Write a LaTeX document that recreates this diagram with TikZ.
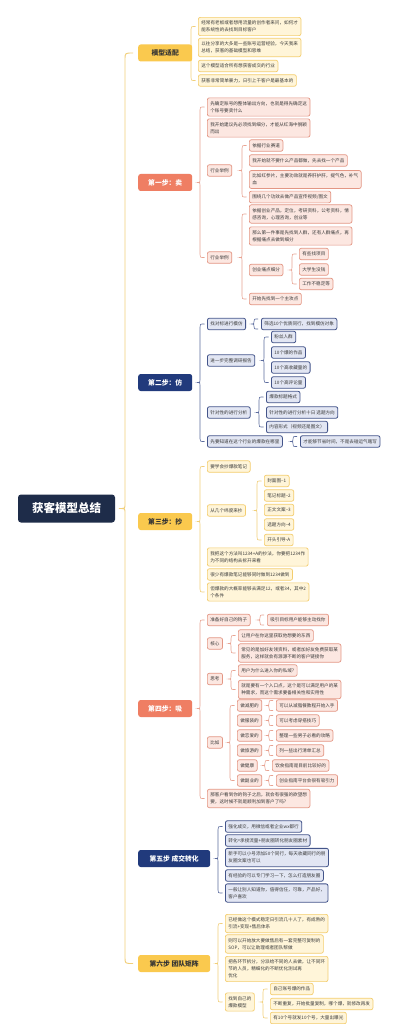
\documentclass[tikz,border=0pt]{standalone}
\usepackage{fontspec}
\setmainfont{Noto Sans CJK SC}
\usetikzlibrary{calc,backgrounds}
\definecolor{txt}{HTML}{3A3A3A}
\definecolor{ybd}{HTML}{F3CD6E}
\definecolor{yfl}{HTML}{FFF5D9}
\definecolor{yelstep}{HTML}{FAC94E}
\definecolor{ybr}{HTML}{F1CF7A}
\definecolor{sbd}{HTML}{E39684}
\definecolor{sfl}{HTML}{FCE7E1}
\definecolor{salstep}{HTML}{EF7E63}
\definecolor{sbr}{HTML}{E8A493}
\definecolor{bbd}{HTML}{44558A}
\definecolor{bfl}{HTML}{E2E6F3}
\definecolor{blustep}{HTML}{213A7C}
\definecolor{bbr}{HTML}{5C6C9E}
\definecolor{rootc}{HTML}{1E2C49}
\tikzset{
  box/.style={draw, rounded corners=2pt, line width=0.7pt, inner xsep=3pt, inner ysep=3.5pt,
    anchor=west, align=left, font=\fontsize{4.6pt}{7pt}\selectfont, text=txt, minimum height=11.5pt},
  yb/.style={box, draw=ybd, fill=yfl},
  sb/.style={box, draw=sbd, fill=sfl},
  bb/.style={box, draw=bbd, fill=bfl, line width=0.8pt},
  stepbox/.style={rounded corners=2.5pt, minimum width=54pt, minimum height=17pt, inner sep=2pt,
    font=\fontsize{6.8pt}{8pt}\selectfont\bfseries, anchor=west},
  ystepbox/.style={stepbox, fill=yelstep, text=black!80},
  sstepbox/.style={stepbox, fill=salstep, text=white},
  bstepbox/.style={stepbox, fill=blustep, text=white},
  brc/.style={line width=0.6pt},
}
\newcommand\mybrace[4][]{%
  \begin{scope}[on background layer]
  \draw[brc,#1] let \p1=(#2.east), \p2=(#3.west), \p3=(#4.west) in
   (\x2-2.5pt,\y2) .. controls (\x2-7pt,\y2) .. (\x2-7pt,\y2-3pt)
   -- (\x2-7pt,\y1+2.5pt) .. controls (\x2-7pt,\y1) .. (\x2-9.5pt,\y1)
   .. controls (\x2-7pt,\y1) .. (\x2-7pt,\y1-2.5pt)
   -- (\x2-7pt,\y3+3pt) .. controls (\x2-7pt,\y3) .. (\x2-2.5pt,\y3);
  \end{scope}}
\newcommand\mybraceone[3][]{%
  \begin{scope}[on background layer]
  \draw[brc,#1] let \p1=(#2.east), \p2=(#3.west) in
   (\x2-3pt,\y2+5pt) .. controls (\x2-7pt,\y2+5pt) .. (\x2-7pt,\y2+2.5pt)
   .. controls (\x2-7pt,\y1) .. (\x2-9.5pt,\y1)
   .. controls (\x2-7pt,\y1) .. (\x2-7pt,\y2-2.5pt)
   .. controls (\x2-7pt,\y2-5pt) .. (\x2-3pt,\y2-5pt);
  \end{scope}}
\begin{document}
\begin{tikzpicture}[x=1pt,y=-1pt]
\useasboundingbox (0,0) rectangle (401,1024);
\begin{scope}[on background layer]
\fill[white] (0,0) rectangle (401,1024);
\end{scope}

% root
\node[fill=rootc, text=white, rounded corners=3pt, minimum width=97pt, minimum height=28pt,
  font=\fontsize{11.5pt}{13pt}\selectfont\bfseries] (root) at (66.5,508.5) {获客模型总结};

% steps
\node[ystepbox] (m0) at (138,53) {模型适配};
\node[sstepbox] (m1) at (138,182.5) {第一步：卖};
\node[bstepbox] (m2) at (138,382.5) {第二步：仿};
\node[ystepbox] (m3) at (138,521.5) {第三步：抄};
\node[sstepbox] (m4) at (138,708.5) {第四步：吸};
\node[bstepbox, minimum width=72pt] (m5) at (138,858.5) {第五步 成交转化};
\node[ystepbox, minimum width=72pt] (m6) at (138,963.5) {第六步 团队矩阵};

% big brace from root to steps
\begin{scope}[on background layer]
\draw[line width=0.9pt, draw=ybr] let \p1=(root.east), \p2=(m0.west), \p3=(m6.west) in
   (\x2-5pt,\y2) .. controls (\x2-13pt,\y2) .. (\x2-13pt,\y2-6pt)
   -- (\x2-13pt,\y1+4pt) .. controls (\x2-13pt,\y1) .. (\x2-19pt,\y1)
   .. controls (\x2-13pt,\y1) .. (\x2-13pt,\y1-4pt)
   -- (\x2-13pt,\y3+6pt) .. controls (\x2-13pt,\y3) .. (\x2-5pt,\y3);
\end{scope}

% ---------- 模型适配
\node[yb] (y1) at (198,26.5) {经常有老板或者想用流量的创作者来问，如何才\\能系统性的去找到目标客户};
\node[yb] (y2) at (198,47.5) {以往分享的大多是一些账号运营经验，今天我来\\总结，获客的基础模型和思维};
\node[yb] (y3) at (198,66) {这个模型适合所有想获客成交的行业};
\node[yb] (y4) at (198,80.5) {获客非常简单暴力，日引上千客户是最基本的};
\mybrace[draw=ybr]{m0}{y1}{y4}

% ---------- 第一步
\node[sb] (s1) at (207,107) {先确定账号的整体输出方向，也就是得先确定这\\个账号要卖什么};
\node[sb] (s2) at (207,128) {我开始建议先必须找到细分，才能从红海中脱颖\\而出};
\node[sb] (s3) at (207,170.5) {行业举例};
\node[sb] (s3a) at (249,145.5) {依据行业赛道};
\node[sb] (s3b) at (249,160.5) {我开始就不要什么产品都做，先去找一个产品};
\node[sb] (s3c) at (249,179.5) {比如红参片，主要功效就是养肝护肝，提气色，补气\\血};
\node[sb] (s3d) at (249,197) {围绕几个功效去做产品宣传视频/图文};
\node[sb] (s4) at (207,257.5) {行业举例};
\node[sb] (s4a) at (249,214) {依据创业产品，定位，考研资料，公考资料，情\\感咨询，心理咨询，创业等};
\node[sb] (s4b) at (249,236) {那么第一件事是先找到人群，还有人群痛点，再\\根据痛点去做到细分};
\node[sb] (s4c) at (249,270) {创业痛点细分};
\node[sb] (s4c1) at (299,254) {有些找项目};
\node[sb] (s4c2) at (299,269.5) {大学生没钱};
\node[sb] (s4c3) at (299,284) {工作不稳定等};
\node[sb] (s4d) at (249,299) {开始先找到一个主攻点};
\mybrace[draw=sbr]{m1}{s1}{s4}
\mybrace[draw=sbr]{s3}{s3a}{s3d}
\mybrace[draw=sbr]{s4}{s4a}{s4d}
\mybrace[draw=sbr]{s4c}{s4c1}{s4c3}

% ---------- 第二步
\node[bb] (b1) at (207,324) {找对标进行模仿};
\node[bb] (b1a) at (261,324) {筛选10个优质同行，找到模仿对象};
\node[bb] (b2) at (207,360.5) {进一步完整调研报告};
\node[bb] (b2a) at (271,337) {粉丝人群};
\node[bb] (b2b) at (271,352.5) {10个爆的作品};
\node[bb] (b2c) at (271,367.5) {10个高收藏量的};
\node[bb] (b2d) at (271,382.5) {10个高评论量};
\node[bb] (b3) at (207,412.5) {针对性的进行分析};
\node[bb] (b3a) at (266,397) {爆款标题格式};
\node[bb] (b3b) at (266,412.5) {针对性的进行分析十日 选题方向};
\node[bb] (b3c) at (266,427) {内容形式（视频还是图文）};
\node[bb] (b4) at (207,441.5) {先要知道在这个行业的爆款在哪里};
\node[bb] (b4a) at (300,441.5) {才能够节省时间，不是去碰运气瞎写};
\mybrace[draw=bbr]{m2}{b1}{b4}
\mybraceone[draw=bbr]{b1}{b1a}
\mybrace[draw=bbr]{b2}{b2a}{b2d}
\mybrace[draw=bbr]{b3}{b3a}{b3c}
\mybraceone[draw=bbr]{b4}{b4a}

% ---------- 第三步
\node[yb] (t1) at (207,466.5) {要学会抄爆款笔记};
\node[yb] (t2) at (207,510.5) {从几个纬度来抄};
\node[yb] (t2a) at (264,481) {封面图--1};
\node[yb] (t2b) at (264,495.5) {笔记标题--2};
\node[yb] (t2c) at (264,510) {正文文案--3};
\node[yb] (t2d) at (264,524.5) {选题方向--4};
\node[yb] (t2e) at (264,540) {开头引导-A};
\node[yb] (t3) at (207,557) {我把这个方法叫1234+A的抄法，你要把1234作\\为不同的结构去拆开来看};
\node[yb] (t4) at (207,574.5) {很少有爆款笔记能够同时做到1234做到};
\node[yb] (t5) at (207,592) {但爆款的大概率能够去满足12，或者34，其中2\\个条件};
\mybrace[draw=ybr]{m3}{t1}{t5}
\mybrace[draw=ybr]{t2}{t2a}{t2e}

% ---------- 第四步
\node[sb] (f1) at (207,620) {准备好自己的钩子};
\node[sb] (f1a) at (267,620) {吸引目标用户能够主动找你};
\node[sb] (f2) at (207,643.5) {核心};
\node[sb] (f2a) at (238,635.5) {让用户在你这里获取他想要的东西};
\node[sb] (f2b) at (238,653) {常见的是加好友领资料，或者加好友免费获取某\\服务，这样就会有源源不断的客户链接你};
\node[sb] (f3) at (207,679) {思考};
\node[sb] (f3a) at (238,670.5) {用户为什么进入你的私域?};
\node[sb] (f3b) at (238,689.5) {就是要有一个入口点，这个是可以满足用户的某\\种需求，而这个需求要备相关性和实用性};
\node[sb] (f4) at (207,742.5) {比如};
\node[sb] (g1) at (237,705.5) {做减肥的};
\node[sb] (g2) at (237,720.5) {做服装的};
\node[sb] (g3) at (237,735.5) {做恋爱的};
\node[sb] (g4) at (237,750.5) {做旅游的};
\node[sb] (g5) at (237,765.5) {做健康};
\node[sb] (g6) at (237,780.5) {做副业的};
\node[sb] (h1) at (276,705.5) {可以从减脂餐教程开始入手};
\node[sb] (h2) at (276,720.5) {可以考虑穿搭技巧};
\node[sb] (h3) at (276,735.5) {整理一些男子必看的攻略};
\node[sb] (h4) at (276,750.5) {列一些出行清单汇总};
\node[sb] (h5) at (272,765.5) {饮食指南是目前比较好的};
\node[sb] (h6) at (276,780.5) {创业指南平台会很有吸引力};
\node[sb] (f5) at (207,798.5) {那客户看到你的钩子之后，就会有很强的欲望想\\要，这时候不就是顺利加到客户了吗?};
\mybrace[draw=sbr]{m4}{f1}{f5}
\mybraceone[draw=sbr]{f1}{f1a}
\mybrace[draw=sbr]{f2}{f2a}{f2b}
\mybrace[draw=sbr]{f3}{f3a}{f3b}
\mybrace[draw=sbr]{f4}{g1}{g6}
\mybraceone[draw=sbr]{g1}{h1}
\mybraceone[draw=sbr]{g2}{h2}
\mybraceone[draw=sbr]{g3}{h3}
\mybraceone[draw=sbr]{g4}{h4}
\mybraceone[draw=sbr]{g5}{h5}
\mybraceone[draw=sbr]{g6}{h6}

% ---------- 第五步
\node[bb] (v1) at (225,826.5) {强化成交，用微信或者企业wx都行};
\node[bb] (v2) at (225,840.5) {转化=承接流量+朋友圈转化朋友圈素材};
\node[bb] (v3) at (225,857.5) {新手可以小号添加50个同行，每天收藏同行的朋\\友圈文案也可以};
\node[bb] (v4) at (225,875.5) {有经验的可以专门学习一下，怎么打造朋友圈};
\node[bb] (v5) at (225,893) {一般让别人知道你，值得信任，可靠，产品好，\\客户喜欢};
\mybrace[draw=bbr]{m5}{v1}{v5}

% ---------- 第六步
\node[yb] (w1) at (225,923.5) {已经做这个模式稳定日引流几十人了，有成熟的\\引流+变现+售后体系};
\node[yb] (w2) at (225,944) {则可以开始放大要做售后有一套完整可复制的\\SOP，可以让助理或者团队帮做};
\node[yb] (w3) at (225,969) {把各环节拆分，分派给不同的人去做，让不同环\\节的人员，精细化的不断优化测试再\\优化};
\node[yb] (w4) at (225,1002) {找到自己的\\爆款模型};
\node[yb] (w4a) at (270,989) {自己账号爆的作品};
\node[yb] (w4b) at (270,1004) {不断重复，开始批量复制，哪个爆，就修改再发};
\node[yb] (w4c) at (270,1018) {有10个号就发10个号，大量出曝光};
\mybrace[draw=ybr]{m6}{w1}{w4}
\mybrace[draw=ybr]{w4}{w4a}{w4c}
\end{tikzpicture}
\end{document}
